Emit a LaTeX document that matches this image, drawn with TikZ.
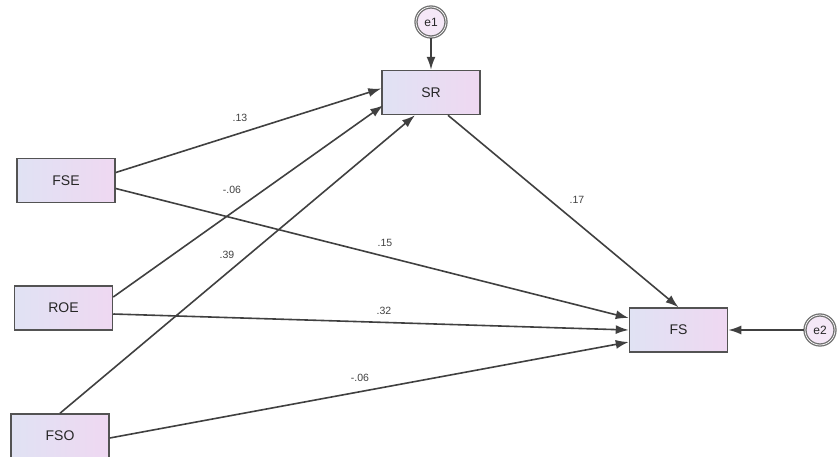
\documentclass[tikz,border=0pt]{standalone}
\usepackage{fontspec}
\setmainfont{Liberation Sans}
\usetikzlibrary{arrows.meta,calc}
\definecolor{boxL}{HTML}{E0E2F3}
\definecolor{boxR}{HTML}{EFD8F2}
\definecolor{edge}{HTML}{404040}
\tikzset{
  var/.style={draw=edge!90, line width=1.5pt, left color=boxL, right color=boxR,
    minimum width=98pt, minimum height=44pt, inner sep=0pt,
    font=\fontsize{14}{14}\selectfont, text=black!85},
  err/.style={circle, draw=edge!75, line width=1.3pt, double=white, double distance=0.7pt,
    fill=boxR!60, minimum size=30pt, inner sep=0pt, font=\fontsize{12}{12}\selectfont, text=black!85},
  path/.style={draw=edge, line width=1.6pt, -{Latex[length=13pt,width=9pt]}},
  coef/.style={font=\fontsize{10.5}{10.5}\selectfont, text=black!75, inner sep=1pt}
}
\begin{document}
\begin{tikzpicture}[x=1pt,y=-1pt]
\useasboundingbox (0,0) rectangle (839,456);
\node[var] (SR) at (431,92.5) {SR};
\node[var] (FSE) at (66,180.5) {FSE};
\node[var] (ROE) at (63.5,308) {ROE};
\node[var] (FSO) at (60,436) {FSO};
\node[var] (FS) at (678.5,330) {FS};
\node[err] (e1) at (431,22) {e1};
\node[err] (e2) at (820,330) {e2};

\draw[path] (e1) -- (SR.north);
\draw[path] (e2) -- (FS.east);
\draw[path] ($(FSE.east)+(0,-8)$) -- ($(SR.west)+(0,-4)$);
\draw[path] ($(ROE.east)+(0,-11)$) -- ($(SR.south west)+(2,-10)$);
\draw[path] (FSO.north) -- ($(SR.south)+(-16,0)$);
\draw[path] ($(SR.south)+(17,0)$) -- (FS.north);
\draw[path] ($(FSE.east)+(0,8)$) -- ($(FS.west)+(0,-12)$);
\draw[path] ($(ROE.east)+(0,6)$) -- (FS.west);
\draw[path] ($(FSO.east)+(0,2)$) -- ($(FS.west)+(0,12)$);

\node[coef] at (240,118) {.13};
\node[coef] at (232,190) {-.06};
\node[coef] at (227,255) {.39};
\node[coef] at (385,243) {.15};
\node[coef] at (384,311) {.32};
\node[coef] at (360,378) {-.06};
\node[coef] at (577,200) {.17};
\end{tikzpicture}
\end{document}
